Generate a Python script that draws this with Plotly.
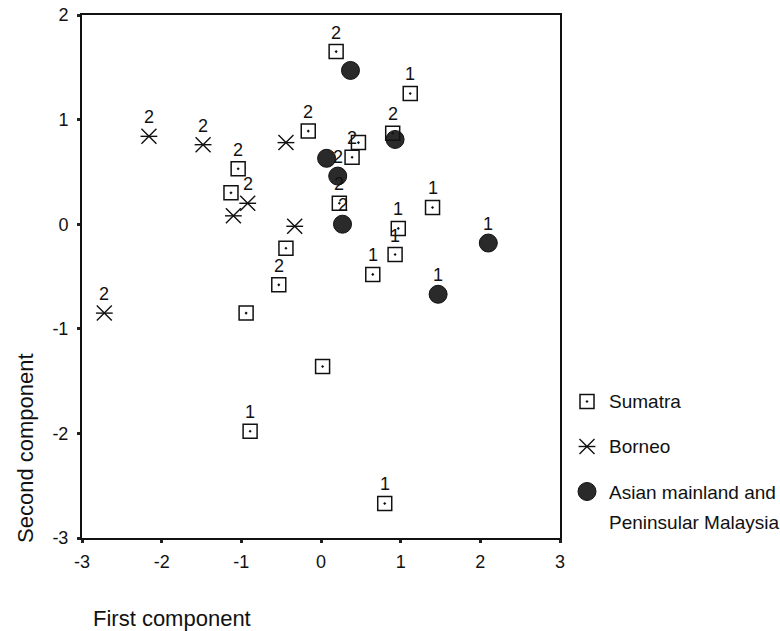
import plotly.graph_objects as go

# Principal component scores by region (first, second component) and point labels
sumatra_x = [0.19, 1.12, -0.16, 0.90, 0.47, 0.39, 0.23, 1.40, 0.97, 0.93,
             0.65, -1.04, -1.13, -0.44, -0.53, -0.94, 0.02, -0.89, 0.80]
sumatra_y = [1.65, 1.25, 0.89, 0.87, 0.78, 0.64, 0.20, 0.16, -0.04, -0.29,
             -0.48, 0.53, 0.30, -0.23, -0.58, -0.85, -1.36, -1.98, -2.67]
sumatra_lab = ["2", "1", "2", "2", "", "2", "2", "1", "1", "1",
               "1", "2", "", "", "2", "", "", "1", "1"]

borneo_x = [-2.72, -2.16, -1.48, -0.92, -1.10, -0.44, -0.33]
borneo_y = [-0.85, 0.84, 0.76, 0.20, 0.08, 0.78, -0.02]
borneo_lab = ["2", "2", "2", "2", "", "", ""]

asia_x = [0.37, 0.93, 0.07, 0.21, 0.27, 2.10, 1.47]
asia_y = [1.47, 0.81, 0.63, 0.46, 0.00, -0.18, -0.67]
asia_lab = ["", "", "", "2", "2", "1", "1"]

x_ticks = [-3, -2, -1, 0, 1, 2, 3]
x_tick_text = ["-3", "-2", "-1", "0", "1", "2", "3"]
y_ticks = [-3, -2, -1, 0, 1, 2]
y_tick_text = ["-3", "-2", "-1", "0", "1", "2"]

legend_lines = ["Sumatra", "Borneo", "Asian mainland and", "Peninsular Malaysia"]

W, H = 780, 631
FONT = "Liberation Sans, Arial, sans-serif"
INK = "#111111"

# plot frame in pixels
PL, PR, PT, PB = 82, 560, 15, 538

sq_style = dict(symbol="square-open-dot", size=14, color=INK, line=dict(width=1.5, color=INK))
x_style = dict(symbol="x-thin-open", size=15, color=INK, line=dict(width=1.4, color=INK))
bar_style = dict(symbol="line-ew-open", size=12, color=INK, line=dict(width=1.4, color=INK))
dot_style = dict(symbol="circle", size=18, color="#2a2a2a", line=dict(width=1, color="#111111"))

fig = go.Figure()

# main scatter
fig.add_trace(go.Scatter(x=asia_x, y=asia_y, mode="markers", marker=dot_style,
                         showlegend=False, hoverinfo="skip"))
fig.add_trace(go.Scatter(x=sumatra_x, y=sumatra_y, mode="markers", marker=sq_style,
                         showlegend=False, hoverinfo="skip"))
fig.add_trace(go.Scatter(x=borneo_x, y=borneo_y, mode="markers", marker=x_style,
                         showlegend=False, hoverinfo="skip"))
fig.add_trace(go.Scatter(x=borneo_x, y=borneo_y, mode="markers", marker=bar_style,
                         showlegend=False, hoverinfo="skip"))

annotations = []
for xs, ys, labs in [(sumatra_x, sumatra_y, sumatra_lab),
                     (borneo_x, borneo_y, borneo_lab),
                     (asia_x, asia_y, asia_lab)]:
    for xv, yv, t in zip(xs, ys, labs):
        if t:
            annotations.append(dict(x=xv, y=yv, xref="x", yref="y", text=t,
                                    showarrow=False, yshift=19, yanchor="middle",
                                    font=dict(family=FONT, size=18, color=INK)))

# legend keys drawn on a pixel-space overlay axis
leg_x = 587
leg_y = [401.5, 446.5, 491.5]
fig.add_trace(go.Scatter(x=[leg_x], y=[leg_y[0]], xaxis="x2", yaxis="y2", mode="markers",
                         marker=sq_style, showlegend=False, hoverinfo="skip"))
fig.add_trace(go.Scatter(x=[leg_x], y=[leg_y[1]], xaxis="x2", yaxis="y2", mode="markers",
                         marker=x_style, showlegend=False, hoverinfo="skip"))
fig.add_trace(go.Scatter(x=[leg_x], y=[leg_y[1]], xaxis="x2", yaxis="y2", mode="markers",
                         marker=bar_style, showlegend=False, hoverinfo="skip"))
fig.add_trace(go.Scatter(x=[leg_x], y=[leg_y[2]], xaxis="x2", yaxis="y2", mode="markers",
                         marker=dot_style, showlegend=False, hoverinfo="skip"))

leg_text_y = [401.5, 446.5, 492.5, 522.5]
for ty, t in zip(leg_text_y, legend_lines):
    annotations.append(dict(x=607, y=ty, xref="x2", yref="y2", text=t, showarrow=False,
                            xanchor="left", yanchor="middle",
                            font=dict(family=FONT, size=19, color=INK)))

# axis titles, justified to the start of each axis
annotations.append(dict(x=25, y=448, xref="x2", yref="y2",
                        text="Second component", textangle=-90, showarrow=False,
                        xanchor="center", yanchor="middle",
                        font=dict(family=FONT, size=22, color=INK)))
annotations.append(dict(x=253, y=618, xref="x2", yref="y2",
                        text="First component", showarrow=False,
                        xanchor="right", yanchor="middle",
                        font=dict(family=FONT, size=22, color=INK)))

axis_common = dict(showgrid=False, zeroline=False, showline=True, mirror=True,
                   linecolor=INK, linewidth=2, ticks="outside", ticklen=3,
                   tickwidth=3, tickcolor="#222222", automargin=False,
                   tickfont=dict(family=FONT, size=18, color=INK))

fig.update_layout(
    template="none",
    width=W, height=H,
    margin=dict(l=0, r=0, t=0, b=0, pad=0, autoexpand=False),
    paper_bgcolor="white", plot_bgcolor="rgba(0,0,0,0)",
    showlegend=False, hovermode=False,
    xaxis=dict(range=[-3, 3], tickvals=x_ticks, ticktext=x_tick_text,
               domain=[PL / W, PR / W], anchor="y", ticklabelstandoff=3, **axis_common),
    yaxis=dict(range=[-3, 2], tickvals=y_ticks, ticktext=y_tick_text,
               domain=[1 - PB / H, 1 - PT / H], anchor="x", ticklabelstandoff=5, **axis_common),
    xaxis2=dict(range=[0, W], domain=[0, 1], anchor="y2", visible=False, fixedrange=True),
    yaxis2=dict(range=[H, 0], domain=[0, 1], anchor="x2", visible=False, fixedrange=True),
    annotations=annotations,
)

fig.write_html("out.html")
